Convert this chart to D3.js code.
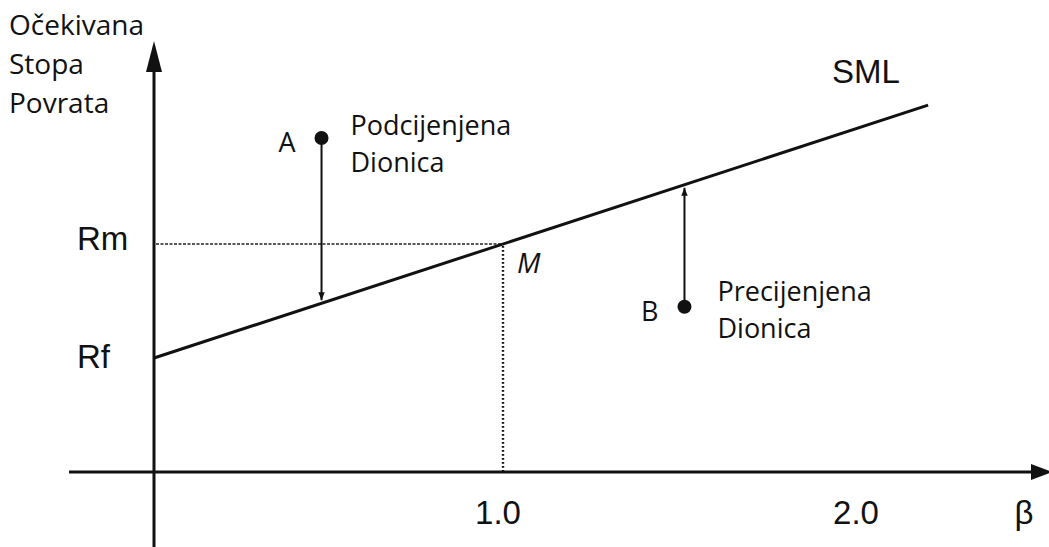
<!DOCTYPE html>
<html>
<meta charset='utf-8'>
<head>
<title>SML</title>
<script src='https://d3js.org/d3.v7.min.js'></script>
<style>
  body { margin: 0; background: #fff; }
  .sans { font-family: 'Open Sans', 'Noto Sans', sans-serif; fill: #111; }
  .arial { font-family: 'Liberation Sans', Arial, sans-serif; fill: #111; }
</style>
</head>
<body>
<div id='chart'></div>
<script>

// values
var rf = 5, rm = 10;                 // expected return at beta 0 and beta 1
var smlBeta = [0, 2.218];            // SML drawn from beta 0 to here
var tickBeta = [1.0, 2.0];
var tickLabels = ['1.0', '2.0'];
var pointNames = ['A', 'B'];
var pointBeta = [0.48, 1.52];
var pointReturn = [14.65, 7.25];
var pointNotes = [['Podcijenjena', 'Dionica'], ['Precijenjena', 'Dionica']];
var yTitle = ['Očekivana', 'Stopa', 'Povrata'];

var width = 1049, height = 547;

var svg = d3.select('#chart')
    .append('svg')
    .attr('width', width)
    .attr('height', height);

var x = d3.scaleLinear().domain([0, 1]).range([154, 503]);
var y = d3.scaleLinear().domain([0, rf]).range([472, 358]);

function sml(b) { return rf + b * (rm - rf); }

// axes
svg.append('line')
    .attr('x1', 69).attr('x2', 1036)
    .attr('y1', y(0)).attr('y2', y(0))
    .attr('stroke', '#111').attr('stroke-width', 3);
svg.append('path')
    .attr('d', 'M1031,' + (y(0) - 8) + 'L1052,' + y(0) + 'L1031,' + (y(0) + 8) + 'Z')
    .attr('fill', '#111');

svg.append('line')
    .attr('x1', x(0)).attr('x2', x(0))
    .attr('y1', 547).attr('y2', 66)
    .attr('stroke', '#111').attr('stroke-width', 3);
svg.append('path')
    .attr('d', 'M' + (x(0) - 8) + ',72L' + x(0) + ',41L' + (x(0) + 8) + ',72Z')
    .attr('fill', '#111');

// Rm guide lines
svg.append('line')
    .attr('x1', x(0) + 2).attr('x2', x(1))
    .attr('y1', y(rm)).attr('y2', y(rm))
    .attr('stroke', '#222').attr('stroke-width', 1.5)
    .attr('stroke-dasharray', '3,1.5');
svg.append('line')
    .attr('x1', x(1)).attr('x2', x(1))
    .attr('y1', y(rm) + 2).attr('y2', y(0))
    .attr('stroke', '#111').attr('stroke-width', 2.4)
    .attr('stroke-dasharray', '1.8,2.2');

// SML
svg.append('line')
    .attr('x1', x(smlBeta[0])).attr('y1', y(sml(smlBeta[0])))
    .attr('x2', x(smlBeta[1])).attr('y2', y(sml(smlBeta[1])))
    .attr('stroke', '#111').attr('stroke-width', 3);

svg.append('defs').append('marker')
    .attr('id', 'tip')
    .attr('viewBox', '0 0 10 10')
    .attr('refX', 10).attr('refY', 5)
    .attr('markerWidth', 4).attr('markerHeight', 4)
    .attr('orient', 'auto')
    .append('path')
    .attr('d', 'M0,1L10,5L0,9Z')
    .attr('fill', '#111');

// points and arrows to the SML
pointNames.forEach(function(name, i) {
    var px = x(pointBeta[i]), py = y(pointReturn[i]);
    var ly = y(sml(pointBeta[i]));
    var dir = ly > py ? -1 : 1;
    svg.append('line')
        .attr('x1', px).attr('x2', px)
        .attr('y1', py).attr('y2', ly + dir * 3)
        .attr('stroke', '#111').attr('stroke-width', 2)
        .attr('marker-end', 'url(#tip)');
    svg.append('circle')
        .attr('cx', px).attr('cy', py).attr('r', 7)
        .attr('fill', '#111');
    svg.append('text')
        .attr('class', 'sans')
        .attr('x', px - 26).attr('y', py + 14)
        .attr('text-anchor', 'end')
        .attr('font-size', 27)
        .text(name);
    pointNotes[i].forEach(function(t, j) {
        svg.append('text')
            .attr('class', 'sans')
            .attr('x', px + (i == 0 ? 29 : 33))
            .attr('y', py + (i == 0 ? -3 : -6) + j * 37)
            .attr('font-size', 27)
            .text(t);
    });
});

svg.append('text')
    .attr('class', 'sans')
    .attr('x', x(1) + 14).attr('y', y(rm) + 29)
    .attr('font-size', 28)
    .attr('font-style', 'italic')
    .text('M');

// y title
yTitle.forEach(function(t, j) {
    svg.append('text')
        .attr('class', 'sans')
        .attr('x', 9).attr('y', 35 + j * 39)
        .attr('font-size', 28)
        .text(t);
});

// Rm, Rf
svg.append('text').attr('class', 'arial')
    .attr('x', 77).attr('y', y(rm) + 6)
    .attr('font-size', 33).text('Rm');
svg.append('text').attr('class', 'arial')
    .attr('x', 77).attr('y', y(rf) + 10)
    .attr('font-size', 33).text('Rf');

// beta ticks
tickBeta.forEach(function(b, i) {
    svg.append('text').attr('class', 'arial')
        .attr('x', x(b) + (i == 0 ? -5 : 4)).attr('y', 524)
        .attr('text-anchor', 'middle')
        .attr('font-size', 33)
        .text(tickLabels[i]);
});
svg.append('text').attr('class', 'arial')
    .attr('x', 1024).attr('y', 524)
    .attr('text-anchor', 'middle')
    .attr('font-size', 33)
    .text('β');

svg.append('text').attr('class', 'arial')
    .attr('x', 832).attr('y', 83)
    .attr('font-size', 33)
    .text('SML');

</script>
</body>
</html>
